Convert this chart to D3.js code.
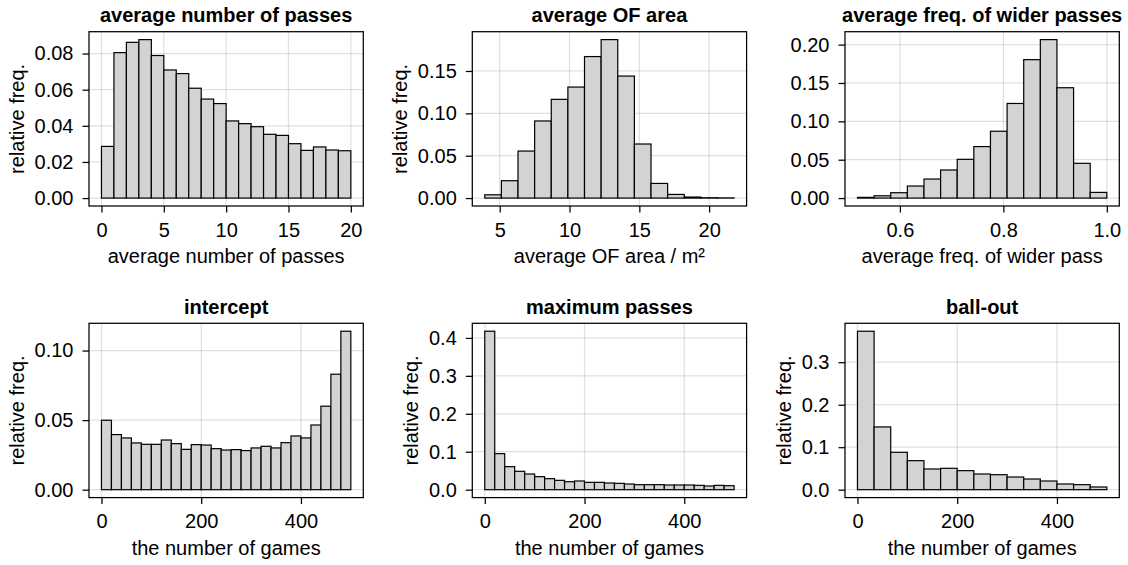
<!DOCTYPE html>
<html>
<head>
<meta charset="utf-8">
<script src="https://cdn.jsdelivr.net/npm/d3@7"></script>
<style>
    body { margin: 0; background: #fff; }
    text { font-family: "Liberation Sans", Arial, Helvetica, sans-serif; fill: #000; }
</style>
</head>
<body>
<div id="chart"></div>
<script>
// panel texts
const titles = ["average number of passes", "average OF area", "average freq. of wider passes",
    "intercept", "maximum passes", "ball-out"];
const xLabels = ["average number of passes", "average OF area / m²", "average freq. of wider pass",
    "the number of games", "the number of games", "the number of games"];
const yLabels = ["relative freq.", "relative freq.", "", "relative freq.", "relative freq.", "relative freq."];

// histogram range (equal-width bins between lo and hi)
const binLo = [0, 3.93, 0.518, 0, 0, 0];
const binHi = [20, 21.79, 1.0, 500, 500, 500];

// relative frequencies
const passesFreq = [0.0286, 0.0805, 0.0862, 0.0877, 0.0789, 0.0709, 0.0689, 0.0608, 0.0548, 0.0523,
    0.0427, 0.0412, 0.0395, 0.0353, 0.0347, 0.0301, 0.0264, 0.0283, 0.0266, 0.0262];
const ofAreaFreq = [0.0039, 0.0205, 0.0555, 0.091, 0.1165, 0.131, 0.167, 0.187, 0.144, 0.0638,
    0.0173, 0.0043, 0.0012, 0.0004, 0.0002];
const widerFreq = [0.0009, 0.003, 0.007, 0.0157, 0.0248, 0.0366, 0.0505, 0.0671, 0.0871, 0.1233,
    0.1804, 0.2065, 0.1438, 0.0453, 0.0074];
const interceptFreq = [0.0499, 0.0396, 0.0372, 0.0336, 0.0326, 0.0326, 0.0357, 0.0331, 0.029, 0.0324,
    0.0321, 0.0295, 0.0285, 0.0288, 0.0281, 0.030, 0.0312, 0.030, 0.0338, 0.0386,
    0.0372, 0.0465, 0.060, 0.083, 0.1139];
const maxPassesFreq = [0.4176, 0.095, 0.0607, 0.0484, 0.0413, 0.0343, 0.029, 0.0246, 0.021, 0.0229,
    0.0193, 0.0193, 0.0176, 0.0167, 0.0149, 0.0132, 0.0132, 0.0132, 0.0123, 0.0123,
    0.0123, 0.0114, 0.0097, 0.0114, 0.0105];
const ballOutFreq = [0.373, 0.1477, 0.088, 0.0683, 0.0487, 0.0503, 0.0448, 0.0369, 0.0353, 0.0298,
    0.0251, 0.0204, 0.0134, 0.0118, 0.0063];

const freqs = [passesFreq, ofAreaFreq, widerFreq, interceptFreq, maxPassesFreq, ballOutFreq];

// tick labels
const xTicks = [[0, 5, 10, 15, 20], [5, 10, 15, 20], [0.6, 0.8, 1.0], [0, 200, 400], [0, 200, 400], [0, 200, 400]];
const yTicks = [[0, 0.02, 0.04, 0.06, 0.08], [0, 0.05, 0.10, 0.15], [0, 0.05, 0.10, 0.15, 0.20],
    [0, 0.05, 0.10], [0, 0.1, 0.2, 0.3, 0.4], [0, 0.1, 0.2, 0.3]];
const xFormats = ["d", "d", ".1f", "d", "d", "d"];
const yFormats = [".2f", ".2f", ".2f", ".2f", ".1f", ".1f"];

const W = 1128, H = 565;
const colLeft = [89, 472.3, 845];
const rowTop = [31.7, 323.3];
const boxW = 274.3, boxH = 174.3;
const lw = 1.25;

const svg = d3.select("#chart").append("svg")
    .attr("width", W)
    .attr("height", H);

function drawPanel(i) {
    const left = colLeft[i % 3], top = rowTop[Math.floor(i / 3)];
    const g = svg.append("g").attr("transform", `translate(${left},${top})`);
    const data = freqs[i];
    const n = data.length;
    const step = (binHi[i] - binLo[i]) / n;
    const bins = data.map((v, k) => ({ x0: binLo[i] + k * step, x1: binLo[i] + (k + 1) * step, v: v }));

    const xr = binHi[i] - binLo[i];
    const x = d3.scaleLinear()
        .domain([binLo[i] - 0.05 * xr, binHi[i] + 0.05 * xr])
        .range([0, boxW]);
    const ymax = d3.max(data);
    const y = d3.scaleLinear()
        .domain([-0.05 * ymax, ymax * 1.05])
        .range([boxH, 0]);

    // grid
    g.append("g").selectAll("line.gx").data(xTicks[i]).join("line")
        .attr("x1", d => x(d)).attr("x2", d => x(d))
        .attr("y1", 0).attr("y2", boxH)
        .attr("stroke", "rgba(0,0,0,0.12)").attr("stroke-width", lw);
    g.append("g").selectAll("line.gy").data(yTicks[i]).join("line")
        .attr("y1", d => y(d)).attr("y2", d => y(d))
        .attr("x1", 0).attr("x2", boxW)
        .attr("stroke", "rgba(0,0,0,0.12)").attr("stroke-width", lw);

    // bars
    g.append("g").selectAll("rect").data(bins).join("rect")
        .attr("x", d => x(d.x0))
        .attr("width", d => x(d.x1) - x(d.x0))
        .attr("y", d => y(d.v))
        .attr("height", d => y(0) - y(d.v))
        .attr("fill", "#d3d3d3")
        .attr("stroke", "#000")
        .attr("stroke-width", 1.2);

    // frame
    g.append("rect")
        .attr("width", boxW).attr("height", boxH)
        .attr("fill", "none").attr("stroke", "#000").attr("stroke-width", lw);

    // axes
    const xAxis = g.append("g")
        .attr("transform", `translate(0,${boxH})`)
        .call(d3.axisBottom(x).tickValues(xTicks[i]).tickFormat(d3.format(xFormats[i]))
            .tickSize(6.5).tickPadding(9.8));
    const yAxis = g.append("g")
        .call(d3.axisLeft(y).tickValues(yTicks[i]).tickFormat(d3.format(yFormats[i]))
            .tickSize(6.5).tickPadding(9));
    [xAxis, yAxis].forEach(a => {
        a.select(".domain").remove();
        a.selectAll("line").attr("stroke", "#000").attr("stroke-width", lw);
        a.selectAll("text").attr("font-size", 20).attr("fill", "#000")
            .style("font-family", '"Liberation Sans", Arial, Helvetica, sans-serif');
    });

    // title
    g.append("text")
        .attr("x", boxW / 2).attr("y", -9.5)
        .attr("text-anchor", "middle")
        .attr("font-size", 20).attr("font-weight", "bold")
        .text(titles[i]);

    // x label
    g.append("text")
        .attr("x", boxW / 2).attr("y", boxH + 57.5)
        .attr("text-anchor", "middle")
        .attr("font-size", 20)
        .text(xLabels[i]);

    // y label, placed just outside the tick labels
    if (yLabels[i]) {
        const bb = yAxis.node().getBBox();
        g.append("text")
            .attr("transform", `translate(${bb.x - 11},${boxH / 2}) rotate(-90)`)
            .attr("text-anchor", "middle")
            .attr("font-size", 20)
            .text(yLabels[i]);
    }
}

d3.range(6).forEach(drawPanel);
</script>
</body>
</html>
